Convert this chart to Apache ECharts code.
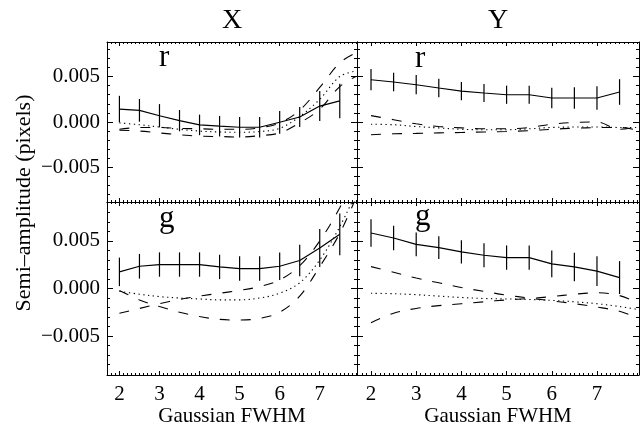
<!DOCTYPE html>
<html><head><meta charset="utf-8">
<script src="https://cdn.jsdelivr.net/npm/echarts@6/dist/echarts.min.js"></script>
<style>html,body{margin:0;padding:0;background:#fff}#c{width:641px;height:431px}</style>
</head><body><div id="c"></div>
<script>
// ---------- data ----------
const panelTitles = ['X', 'Y'];
const bandLabels = ['r', 'g'];
const xTickLabels = [2, 3, 4, 5, 6, 7];
const yTickLabels = [-0.005, 0, 0.005];
const yMinorTicks = [-0.008,-0.007,-0.006,-0.004,-0.003,-0.002,-0.001,0.001,0.002,0.003,0.004,0.006,0.007,0.008];
const xAxisName = 'Gaussian FWHM';
const yAxisName = 'Semi–amplitude (pixels)';

const fwhm = [2, 2.5, 3, 3.5, 4, 4.5, 5, 5.5, 6, 6.5, 7, 7.5];
const modelFwhm = [2, 2.5, 3, 3.5, 4, 4.5, 5, 5.5, 6, 6.5, 7, 7.5, 7.9];

// r band, X
const rXMeas   = [1.42e-3,1.28e-3,0.69e-3,0.15e-3,-0.32e-3,-0.46e-3,-0.58e-3,-0.58e-3,-0.03e-3,0.55e-3,1.75e-3,2.32e-3];
const rXErr    = [1.46e-3,1.25e-3,1.28e-3,1.17e-3,1.13e-3,1.13e-3,1.13e-3,1.13e-3,1.25e-3,1.10e-3,1.65e-3,1.90e-3];
const rXDashA  = [-0.8e-3,-0.6e-3,-0.6e-3,-0.7e-3,-0.75e-3,-0.8e-3,-0.8e-3,-0.65e-3,-0.1e-3,1.3e-3,3.8e-3,6.5e-3,7.6e-3];
const rXDotted = [-0.1e-3,-0.3e-3,-0.55e-3,-0.8e-3,-1.0e-3,-1.1e-3,-1.13e-3,-1.05e-3,-0.7e-3,0.6e-3,2.5e-3,5.0e-3,5.6e-3];
const rXDashB  = [-0.9e-3,-1.0e-3,-1.2e-3,-1.4e-3,-1.55e-3,-1.6e-3,-1.65e-3,-1.5e-3,-1.2e-3,-0.1e-3,1.4e-3,3.9e-3,5.0e-3];

// r band, Y
const rYMeas   = [4.65e-3,4.40e-3,4.10e-3,3.74e-3,3.40e-3,3.19e-3,3.00e-3,3.00e-3,2.64e-3,2.64e-3,2.64e-3,3.30e-3];
const rYErr    = [1.17e-3,1.03e-3,1.06e-3,1.03e-3,1.00e-3,1.00e-3,1.00e-3,1.00e-3,1.12e-3,1.19e-3,1.28e-3,1.41e-3];
const rYDashE  = [0.7e-3,0.25e-3,-0.2e-3,-0.5e-3,-0.65e-3,-0.75e-3,-0.75e-3,-0.6e-3,-0.25e-3,-0.05e-3,0.0,-0.8e-3,-0.55e-3];
const rYDotted = [-0.25e-3,-0.3e-3,-0.5e-3,-0.65e-3,-0.8e-3,-0.85e-3,-0.85e-3,-0.75e-3,-0.6e-3,-0.55e-3,-0.55e-3,-0.6e-3,-0.6e-3];
const rYDashF  = [-1.4e-3,-1.3e-3,-1.25e-3,-1.2e-3,-1.15e-3,-1.1e-3,-1.05e-3,-0.95e-3,-0.8e-3,-0.68e-3,-0.62e-3,-0.6e-3,-0.9e-3];

// g band, X
const gXMeas   = [1.75e-3,2.34e-3,2.52e-3,2.52e-3,2.52e-3,2.27e-3,2.10e-3,2.10e-3,2.34e-3,2.95e-3,4.25e-3,5.70e-3];
const gXErr    = [1.50e-3,1.30e-3,1.28e-3,1.28e-3,1.28e-3,1.28e-3,1.28e-3,1.28e-3,1.45e-3,1.66e-3,2.00e-3,2.20e-3];
const gXDotted = [-0.3e-3,-0.6e-3,-0.85e-3,-1.0e-3,-1.1e-3,-1.2e-3,-1.2e-3,-1.0e-3,-0.5e-3,0.6e-3,3.0e-3,6.5e-3,10e-3];
const gXDashC  = [-2.6e-3,-2.1e-3,-1.6e-3,-1.15e-3,-0.8e-3,-0.5e-3,-0.2e-3,0.2e-3,0.9e-3,2.4e-3,5.0e-3,8.5e-3,12e-3];
const gXDashD  = [-0.2e-3,-1.2e-3,-1.9e-3,-2.5e-3,-2.95e-3,-3.25e-3,-3.32e-3,-3.15e-3,-2.5e-3,-0.8e-3,2.3e-3,5.8e-3,9.5e-3];

// g band, Y
const gYMeas   = [5.84e-3,5.31e-3,4.65e-3,4.30e-3,3.85e-3,3.50e-3,3.25e-3,3.25e-3,2.59e-3,2.27e-3,1.82e-3,1.15e-3];
const gYErr    = [1.45e-3,1.28e-3,1.25e-3,1.20e-3,1.22e-3,1.26e-3,1.28e-3,1.28e-3,1.40e-3,1.50e-3,1.57e-3,1.73e-3];
const gYDashG  = [2.3e-3,1.7e-3,1.1e-3,0.6e-3,0.1e-3,-0.3e-3,-0.7e-3,-1.0e-3,-1.3e-3,-1.6e-3,-1.95e-3,-2.4e-3,-3.1e-3];
const gYDotted = [-0.5e-3,-0.55e-3,-0.65e-3,-0.8e-3,-0.95e-3,-1.05e-3,-1.1e-3,-1.15e-3,-1.25e-3,-1.4e-3,-1.6e-3,-1.9e-3,-2.2e-3];
const gYDashH  = [-3.6e-3,-2.6e-3,-2.1e-3,-1.8e-3,-1.6e-3,-1.4e-3,-1.2e-3,-1.05e-3,-0.85e-3,-0.6e-3,-0.45e-3,-0.75e-3,-1.5e-3];

// ---------- chart ----------
const FONT = 'Liberation Serif';
const XMIN = 1.69, XMAX = 7.93;
const xMinorTicks = [];
for (let k = 17; k <= 79; k++) { if (k % 10 !== 0) xMinorTicks.push(k / 10); }

const panels = [
  {box:{left:107, top:42, width:250, height:160}, ylim:0.0088, meas:rXMeas, err:rXErr,
   models:[[rXDashA,'dashed'],[rXDotted,'dotted'],[rXDashB,'dashed']], showX:false, showY:true},
  {box:{left:357, top:42, width:282, height:160}, ylim:0.0088, meas:rYMeas, err:rYErr,
   models:[[rYDashE,'dashed'],[rYDotted,'dotted'],[rYDashF,'dashed']], showX:false, showY:false},
  {box:{left:107, top:202, width:250, height:173}, ylim:0.0091, meas:gXMeas, err:gXErr,
   models:[[gXDotted,'dotted'],[gXDashC,'dashed'],[gXDashD,'dashed']], showX:true, showY:true},
  {box:{left:357, top:202, width:282, height:173}, ylim:0.0091, meas:gYMeas, err:gYErr,
   models:[[gYDashG,'dashed'],[gYDotted,'dotted'],[gYDashH,'dashed']], showX:true, showY:false}
];

const grid = [], xAxis = [], yAxis = [], series = [];
const black = '#000';
const fmtY = v => (v < 0 ? '−' : '') + Math.abs(v).toFixed(3);

panels.forEach((p, i) => {
  grid.push(Object.assign({outerBoundsMode:'none', containLabel:false}, p.box));
  const xBase = {type:'value', gridIndex:i, min:XMIN, max:XMAX, splitLine:{show:false}};
  const yBase = {type:'value', gridIndex:i, min:-p.ylim, max:p.ylim, splitLine:{show:false}};
  xAxis.push(Object.assign({}, xBase, {
    position:'bottom',
    axisLine:{show:true, onZero:false, lineStyle:{color:black, width:1}},
    axisTick:{show:true, inside:true, length:4, customValues:xTickLabels, lineStyle:{color:black}},
    axisLabel:{show:p.showX, customValues:xTickLabels, color:black, fontFamily:FONT, fontSize:21, margin:9},
    name:p.showX ? xAxisName : '', nameLocation:'middle', nameGap:29,
    nameTextStyle:{color:black, fontFamily:FONT, fontSize:21}
  }));
  xAxis.push(Object.assign({}, xBase, {
    position:'top',
    axisLine:{show:true, onZero:false, lineStyle:{color:black, width:1}},
    axisTick:{show:true, inside:true, length:4, customValues:xTickLabels, lineStyle:{color:black}},
    axisLabel:{show:false}
  }));
  ['bottom','top'].forEach(pos => xAxis.push(Object.assign({}, xBase, {
    position:pos,
    axisLine:{show:false, onZero:false},
    axisTick:{show:true, inside:true, length:2, customValues:xMinorTicks, lineStyle:{color:black}},
    axisLabel:{show:false}
  })));
  yAxis.push(Object.assign({}, yBase, {
    position:'left',
    axisLine:{show:true, onZero:false, lineStyle:{color:black, width:1}},
    axisTick:{show:true, inside:true, length:6, customValues:yTickLabels, lineStyle:{color:black}},
    axisLabel:{show:p.showY, customValues:yTickLabels, formatter:fmtY, color:black, fontFamily:FONT, fontSize:21, margin:7}
  }));
  yAxis.push(Object.assign({}, yBase, {
    position:'right',
    axisLine:{show:true, onZero:false, lineStyle:{color:black, width:1}},
    axisTick:{show:true, inside:true, length:6, customValues:yTickLabels, lineStyle:{color:black}},
    axisLabel:{show:false}
  }));
  ['left','right'].forEach(pos => yAxis.push(Object.assign({}, yBase, {
    position:pos,
    axisLine:{show:false, onZero:false},
    axisTick:{show:true, inside:true, length:3, customValues:yMinorTicks, lineStyle:{color:black}},
    axisLabel:{show:false}
  })));

  const xi = 4 * i, yi = 4 * i;
  p.models.forEach(([vals, kind]) => {
    series.push({
      type:'line', xAxisIndex:xi, yAxisIndex:yi, silent:true,
      data: modelFwhm.map((x, k) => [x, vals[k]]),
      showSymbol:false, smooth:0.35, clip:true,
      lineStyle:{color:black, width:1.1, type: kind === 'dotted' ? [1.3, 3.5] : [10, 11]}
    });
  });
  series.push({
    type:'line', xAxisIndex:xi, yAxisIndex:yi, silent:true,
    data: fwhm.map((x, k) => [x, p.meas[k]]),
    showSymbol:false, clip:true,
    lineStyle:{color:black, width:1.2}
  });
  series.push({
    type:'custom', xAxisIndex:xi, yAxisIndex:yi, silent:true, clip:true,
    data: fwhm.map((x, k) => [x, p.meas[k], p.err[k]]),
    encode:{x:0, y:1},
    renderItem: (params, api) => {
      const x = api.value(0), y = api.value(1), e = api.value(2);
      const a = api.coord([x, y - e]), b = api.coord([x, y + e]);
      return {type:'line', shape:{x1:a[0], y1:a[1], x2:b[0], y2:b[1]},
              style:{stroke:black, lineWidth:1.2}};
    }
  });
});

const graphic = [
  {type:'text', x:232, y:21, style:{text:panelTitles[0], font:'28px "Liberation Serif"', fill:black, align:'center', verticalAlign:'middle'}},
  {type:'text', x:498, y:21, style:{text:panelTitles[1], font:'28px "Liberation Serif"', fill:black, align:'center', verticalAlign:'middle'}},
  {type:'text', x:159, y:58, style:{text:bandLabels[0], font:'31px "Liberation Serif"', fill:black, align:'left', verticalAlign:'middle'}},
  {type:'text', x:415, y:59, style:{text:bandLabels[0], font:'31px "Liberation Serif"', fill:black, align:'left', verticalAlign:'middle'}},
  {type:'text', x:159, y:219, style:{text:bandLabels[1], font:'31px "Liberation Serif"', fill:black, align:'left', verticalAlign:'middle'}},
  {type:'text', x:415, y:217, style:{text:bandLabels[1], font:'31px "Liberation Serif"', fill:black, align:'left', verticalAlign:'middle'}},
  {type:'text', x:24, y:203, rotation:Math.PI/2, style:{text:yAxisName, font:'22px "Liberation Serif"', fill:black, align:'center', verticalAlign:'middle'}}
];

const chart = echarts.init(document.getElementById('c'), null, {renderer:'canvas'});
chart.setOption({
  backgroundColor:'#fff',
  animation:false,
  grid, xAxis, yAxis, series, graphic
});
</script>
</body></html>
